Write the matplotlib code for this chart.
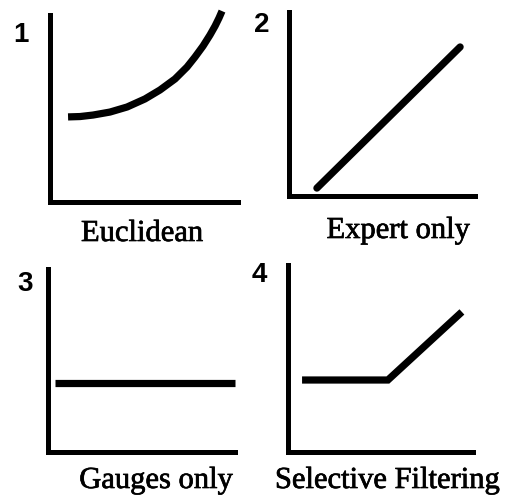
import matplotlib
matplotlib.use("Agg")
import matplotlib.pyplot as plt
import matplotlib.patheffects as pe

W, H = 511, 504

panel_numbers = ["1", "2", "3", "4"]
captions = ["Euclidean", "Expert only", "Gauges only", "Selective Filtering"]

# curve values in axes units (0..1)
curve1_x = [0.096, 0.160, 0.229, 0.319, 0.410, 0.505, 0.585, 0.665, 0.729,
            0.771, 0.814, 0.851, 0.878, 0.899, 0.915]
curve1_y = [0.455, 0.457, 0.465, 0.481, 0.508, 0.551, 0.599, 0.658, 0.722,
            0.775, 0.834, 0.893, 0.941, 0.984, 1.021]
curve2_x = [0.15, 0.92]
curve2_y = [0.043, 0.81]
curve3_x = [0.037, 1.0]
curve3_y = [0.377, 0.377]
curve4_x = [0.076, 0.54, 0.94]
curve4_y = [0.385, 0.385, 0.749]

curves = [(curve1_x, curve1_y), (curve2_x, curve2_y), (curve3_x, curve3_y), (curve4_x, curve4_y)]

# axes boxes in pixels: left, right, top, bottom
boxes = [(50, 238, 15, 202), (289, 475, 12, 196), (48, 235, 269, 452), (288, 473, 265, 452)]
num_pos = [(21, 35), (262, 25), (25, 284), (259, 275)]
cap_pos = [(142, 241), (398, 238), (156, 488), (387, 488)]
capstyles = ["butt", "round", "butt", "butt"]

fig = plt.figure(figsize=(W / 100, H / 100), dpi=100)
fig.patch.set_facecolor("white")

for i in range(4):
    l, r, t, b = boxes[i]
    ax = fig.add_axes([l / W, 1 - b / H, (r - l) / W, (b - t) / H])
    ax.set_xlim(0, 1)
    ax.set_ylim(0, 1)
    for s in ["top", "right"]:
        ax.spines[s].set_visible(False)
    for s in ["left", "bottom"]:
        ax.spines[s].set_linewidth(3.6)
        ax.spines[s].set_color("black")
        ax.spines[s].set_capstyle("projecting")
    ax.set_xticks([])
    ax.set_yticks([])
    ax.patch.set_alpha(0)
    xs, ys = curves[i]
    ax.plot(xs, ys, color="black", lw=5.2, solid_capstyle=capstyles[i],
            solid_joinstyle="miter", clip_on=False)
    nx, ny = num_pos[i]
    fig.text(nx / W, 1 - ny / H, panel_numbers[i], ha="center", va="center",
             fontsize=20, fontweight="bold", family="Liberation Sans")
    cx, cy = cap_pos[i]
    fig.text(cx / W, 1 - cy / H, captions[i], ha="center", va="baseline",
             fontsize=22, family="Liberation Serif",
             path_effects=[pe.withStroke(linewidth=0.5, foreground="black")])

fig.savefig("out.png", dpi=100, facecolor="white")
